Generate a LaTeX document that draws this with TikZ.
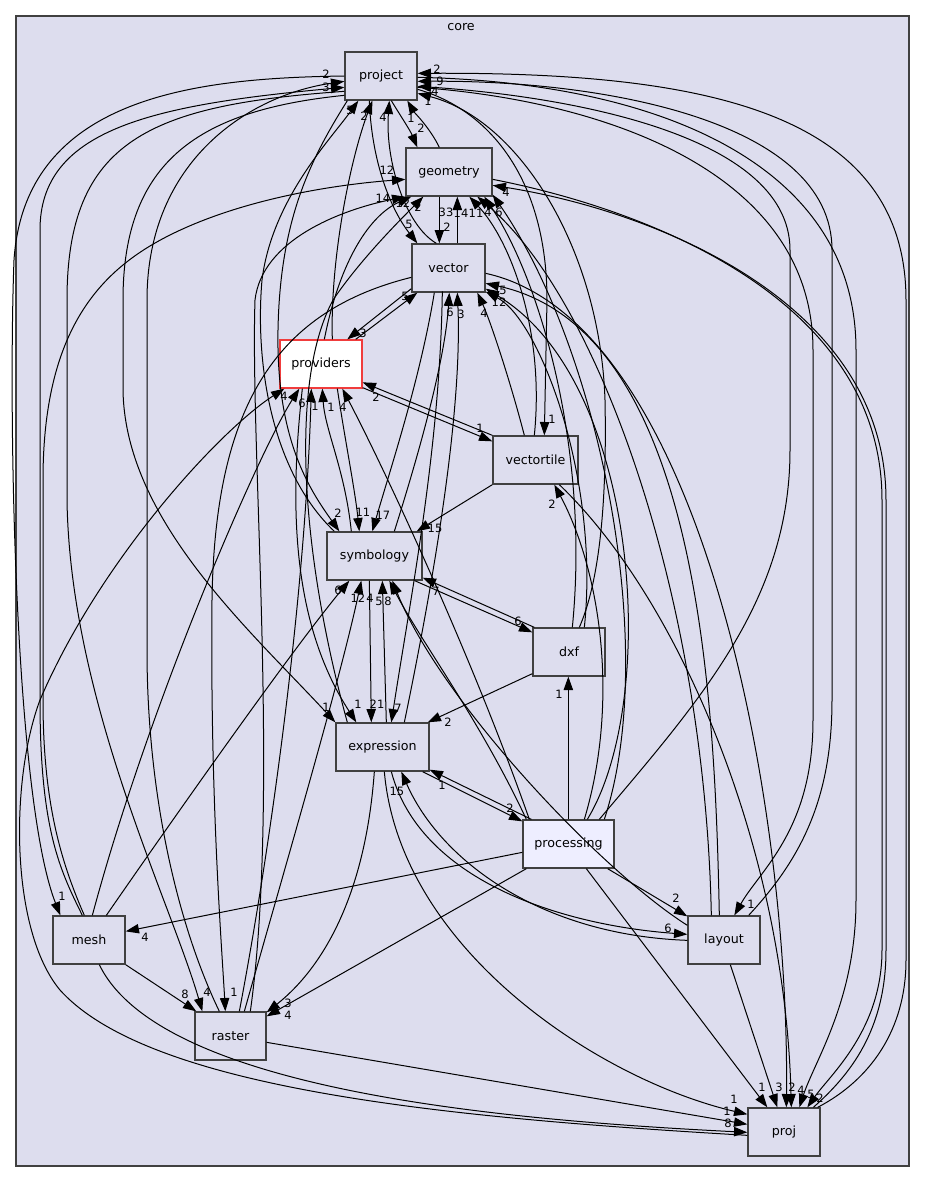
\documentclass[tikz,border=0pt]{standalone}
\usepackage{fontspec}
\setmainfont{DejaVu Sans}
\usetikzlibrary{arrows.meta,calc}
\definecolor{clusterfill}{HTML}{DDDDEE}
\definecolor{boxborder}{HTML}{404040}
\definecolor{procfill}{HTML}{EEEEFF}
\definecolor{provborder}{HTML}{F03C3C}
\tikzset{
  box/.style={draw=boxborder, fill=clusterfill, line width=1pt, minimum height=36pt, inner sep=0pt, font=\fontsize{9.5}{11}\selectfont},
  dep/.style={draw=black, line width=0.75pt, -{Triangle[length=10pt,width=7pt]}},
  lab/.style={font=\fontsize{8.6}{9}\selectfont, inner sep=0pt},
  clusterbox/.style={draw=boxborder, fill=clusterfill, line width=1pt, inner sep=0pt, minimum width=669.75pt, minimum height=862.5pt},
}
\begin{document}
\begin{tikzpicture}[x=0.75pt,y=-0.75pt]
\useasboundingbox (0,0) rectangle (925,1183);
\node[clusterbox] (core) at (462.5,591) {};
\node[font=\fontsize{9.5}{11}\selectfont] (corelabel) at (461,27) {core};

% nodes
\node[box, minimum width=54pt] (project) at (381,76) {project};
\node[box, minimum width=64.5pt] (geometry) at (449,172) {geometry};
\node[box, minimum width=54.75pt] (vector) at (448.5,268) {vector};
\node[box, minimum width=61.5pt, fill=white, draw=provborder] (providers) at (321,364) {providers};
\node[box, minimum width=63.75pt] (vectortile) at (535.5,460) {vectortile};
\node[box, minimum width=71.25pt] (symbology) at (374.5,556) {symbology};
\node[box, minimum width=54pt] (dxf) at (569,652) {dxf};
\node[box, minimum width=69.75pt] (expression) at (382.5,747) {expression};
\node[box, minimum width=68.25pt, fill=procfill] (processing) at (568.5,844) {processing};
\node[box, minimum width=54pt] (mesh) at (89,940) {mesh};
\node[box, minimum width=54pt] (layout) at (724,940) {layout};
\node[box, minimum width=53.25pt] (raster) at (230.5,1036) {raster};
\node[box, minimum width=54pt] (proj) at (784,1132) {proj};

% edges around project
\draw[dep] ($(project.south west)+(47,0)$) .. controls (400,115) and (410,130) .. ($(geometry.north west)+(12,0)$);
\node[lab] (l1) at (421,128) {2};
\draw[dep] ($(geometry.north west)+(34,0)$) .. controls (430,128) and (414,112) .. ($(project.south west)+(63,0)$);
\node[lab] (l2) at (411,118) {1};
\draw[dep] ($(vector.north west)+(25,0)$) .. controls (405,225) and (385,160) .. ($(project.south west)+(45,0)$);
\node[lab] (l3) at (383,117) {4};
\draw[dep] ($(project.south west)+(25,0)$) .. controls (372,170) and (395,215) .. ($(vector.north west)+(6,0)$);
\node[lab] (l4) at (409,224) {5};
\draw[dep] ($(providers.north west)+(53,0)$) .. controls (330,260) and (350,160) .. ($(project.south west)+(28,0)$);
\node[lab] (l5) at (364,116) {2};
\draw[dep] ($(symbology.north west)+(8,0)$) .. controls (270,470) and (255,360) .. (262,280) .. controls (272,200) and (330,140) .. ($(project.south west)+(14,0)$);
\node[lab] (l6) at (350,110) {5};
\draw[dep] ($(mesh.north west)+(30,0)$) .. controls (60,870) and (40,830) .. (40,700) -- (40,230) .. controls (40,130) and (150,105) .. ($(project.north west)+(0,36)$);
\node[lab] (l7) at (326,87) {3};
\draw[dep] ($(raster.north west)+(25,0)$) .. controls (180,930) and (147,800) .. (147,650) -- (147,300) .. controls (147,160) and (250,95) .. ($(project.north west)+(0,30)$);
\node[lab] (l8) at (326,74) {2};
\draw[dep] (project.west) .. controls (200,78) and (25,95) .. (14,260) .. controls (8,420) and (15,800) .. ($(mesh.north west)+(8,0)$);
\node[lab] (l9) at (62,896) {1};
\draw[dep] ($(mesh.north west)+(32,0)$) .. controls (60,860) and (43,800) .. (43,700) -- (43,480) .. controls (43,330) and (100,270) .. (170,235) .. controls (240,200) and (330,185) .. ($(geometry.north west)+(0,32)$);
\node[lab] (l10) at (387,170) {12};
\draw[dep] ($(project.north west)+(0,40)$) .. controls (150,105) and (67,140) .. (67,300) -- (67,500) .. controls (70,700) and (170,900) .. ($(raster.north west)+(8,0)$);
\node[lab] (l11) at (207,992) {4};
\draw[dep] ($(project.north west)+(0,44)$) .. controls (200,110) and (123,160) .. (123,300) -- (123,390) .. controls (125,520) and (250,630) .. (expression.north west);
\node[lab] (l12) at (326,707) {1};
\draw[dep] ($(project.south west)+(3,0)$) .. controls (310,160) and (280,220) .. (278,330) .. controls (276,440) and (310,490) .. ($(symbology.north west)+(13,0)$);
\node[lab] (l13) at (338,513) {2};
\draw[dep] ($(project.north east)+(0,38)$) .. controls (490,110) and (547,180) .. (547,300) -- ($(vectortile.north west)+(52,0)$);
\node[lab] (l14) at (552,419) {1};
\draw[dep] ($(dxf.north west)+(47,0)$) .. controls (600,580) and (607,500) .. (605,400) .. controls (600,250) and (520,120) .. ($(project.north east)+(0,42)$);
\node[lab] (l15) at (435,91) {4};
\draw[dep] ($(processing.north west)+(77,0)$) .. controls (700,700) and (790,600) .. (790,450) -- (790,250) .. controls (790,130) and (550,95) .. ($(project.north east)+(0,35)$);
\node[lab] (l16) at (428,101) {1};
\draw[dep] ($(layout.north east)+(-12,0)$) .. controls (800,860) and (832,800) .. (832,700) -- (832,250) .. controls (832,120) and (600,80) .. ($(project.north east)+(0,30)$);
\node[lab] (l17) at (440,81) {9};
\draw[dep] ($(project.north east)+(0,36)$) .. controls (600,100) and (813,170) .. (813,350) -- (813,720) .. controls (813,830) and (760,870) .. ($(layout.north west)+(47,0)$);
\node[lab] (l18) at (751,904) {1};
\draw[dep] ($(proj.north east)+(-3,0)$) .. controls (870,1080) and (906,1030) .. (906,960) -- (906,300) .. controls (906,110) and (700,72) .. ($(project.north east)+(0,22)$);
\node[lab] (l19) at (437,69) {2};
\draw[dep] ($(project.north east)+(0,26)$) .. controls (650,82) and (856,160) .. (856,350) -- (856,900) .. controls (856,1000) and (815,1060) .. ($(proj.north west)+(52,0)$);
\node[lab] (l20) at (820,1098) {2};
\draw[dep] ($(geometry.north east)+(0,32)$) .. controls (650,210) and (882,300) .. (882,500) -- (882,950) .. controls (882,1030) and (830,1075) .. ($(proj.north west)+(60,0)$);
\node[lab] (l21) at (811,1094) {5};
\draw[dep] ($(proj.north west)+(66,0)$) .. controls (850,1075) and (886,1030) .. (886,950) -- (886,500) .. controls (886,300) and (650,210) .. ($(geometry.north east)+(0,38)$);
\node[lab] (l22) at (506,192) {4};

% geometry / vector
\draw[dep] ($(geometry.south west)+(34,0)$) -- ($(vector.north west)+(28,0)$);
\node[lab] (l23) at (447,227) {2};
\draw[dep] ($(vector.north west)+(46,0)$) -- ($(geometry.south west)+(52,0)$);
\node[lab] (l24) at (446,212) {33};
\draw[dep] ($(providers.north east)+(-7,0)$) -- ($(vector.south west)+(6,0)$);
\node[lab] (l25) at (405,296) {5};
\draw[dep] ($(vector.south west)+(0,-4)$) -- ($(providers.north west)+(68,0)$);
\node[lab] (l26) at (363,333) {3};
\draw[dep] (vectortile.north west) -- ($(providers.north east)+(0,43)$);
\node[lab] (l27) at (376,397) {2};
\draw[dep] ($(providers.south east)+(0,-1)$) -- ($(vectortile.north west)+(0,6)$);
\node[lab] (l28) at (480,428) {1};
\draw[dep] ($(vectortile.north west)+(32,0)$) .. controls (510,380) and (490,320) .. ($(vector.south west)+(66,0)$);
\node[lab] (l29) at (484,313) {4};
\draw[dep] ($(vectortile.north west)+(42,0)$) .. controls (545,330) and (510,240) .. ($(geometry.south west)+(64,0)$);
\node[lab] (l30) at (461,213) {14};
\draw[dep] ($(vector.south west)+(23,0)$) .. controls (420,380) and (390,470) .. ($(symbology.north west)+(46,0)$);
\node[lab] (l31) at (383,515) {17};
\draw[dep] ($(symbology.north west)+(68,0)$) .. controls (420,450) and (445,360) .. ($(vector.south west)+(38,0)$);
\node[lab] (l32) at (450,312) {6};
\draw[dep] ($(expression.north west)+(69,0)$) .. controls (440,550) and (462,400) .. ($(vector.south west)+(46,0)$);
\node[lab] (l33) at (461,314) {3};
\draw[dep] ($(vector.north west)+(31,48)$) .. controls (440,450) and (410,600) .. ($(expression.north west)+(56,0)$);
\node[lab] (l34) at (398,708) {7};
\draw[dep] ($(processing.north west)+(65,0)$) .. controls (660,700) and (640,380) .. ($(vector.south east)+(0,-4)$);
\node[lab] (l35) at (499,302) {12};
\draw[dep] ($(layout.north west)+(32,0)$) .. controls (715,700) and (700,330) .. ($(vector.north east)+(0,40)$);
\node[lab] (l36) at (503,290) {5};
\draw[dep] ($(vector.north east)+(0,30)$) .. controls (700,320) and (790,800) .. ($(proj.north west)+(39,0)$);
\node[lab] (l37) at (792,1087) {2};
\draw[dep] ($(vector.north west)+(0,34)$) .. controls (280,310) and (215,400) .. (212,600) .. controls (210,800) and (222,950) .. ($(raster.north west)+(31,0)$);
\node[lab] (l38) at (234,992) {1};
\draw[dep] ($(providers.north west)+(45,0)$) .. controls (340,260) and (370,215) .. ($(geometry.south west)+(6,0)$);
\node[lab] (l39) at (403,203) {12};
\draw[dep] ($(raster.north west)+(56,0)$) .. controls (280,800) and (250,450) .. (255,300) .. controls (262,240) and (340,210) .. (geometry.south west);
\node[lab] (l40) at (383,198) {14};
\draw[dep] ($(expression.north west)+(12,0)$) .. controls (300,550) and (290,380) .. (333,300) .. controls (360,260) and (400,220) .. ($(geometry.south west)+(18,0)$);
\node[lab] (l41) at (418,207) {2};

% providers
\draw[dep] ($(mesh.north west)+(40,0)$) .. controls (150,700) and (260,450) .. ($(providers.south west)+(20,0)$);
\node[lab] (l42) at (302,403) {6};
\draw[dep] ($(proj.north west)+(0,28)$) .. controls (450,1118) and (150,1090) .. (60,990) .. controls (10,930) and (10,780) .. (40,700) .. controls (100,560) and (220,430) .. ($(providers.south west)+(5,0)$);
\node[lab] (l43) at (284,396) {4};
\draw[dep] ($(providers.south west)+(23,0)$) .. controls (290,500) and (290,620) .. ($(expression.north west)+(21,0)$);
\node[lab] (l44) at (358,704) {1};
\draw[dep] ($(raster.north west)+(45,0)$) .. controls (270,850) and (305,600) .. ($(providers.south west)+(32,0)$);
\node[lab] (l45) at (315,406) {1};
\draw[dep] ($(symbology.north west)+(25,0)$) .. controls (345,470) and (325,430) .. ($(providers.south west)+(43,0)$);
\node[lab] (l46) at (331,407) {1};
\draw[dep] ($(providers.south west)+(58,0)$) .. controls (345,440) and (355,490) .. ($(symbology.north west)+(33,0)$);
\node[lab] (l47) at (363,512) {11};
\draw[dep] ($(processing.north west)+(7,0)$) .. controls (470,650) and (380,460) .. ($(providers.south west)+(63,0)$);
\node[lab] (l48) at (343,407) {4};

% symbology / dxf / expression
\draw[dep] (vectortile.south west) -- ($(symbology.north east)+(-6,0)$);
\node[lab] (l49) at (435,528) {15};
\draw[dep] ($(symbology.south east)+(-8,0)$) -- ($(dxf.north west)+(0,5)$);
\node[lab] (l50) at (518,621) {6};
\draw[dep] ($(dxf.north west)+(2,0)$) -- ($(symbology.south east)+(0,-3)$);
\node[lab] (l51) at (436,591) {7};
\draw[dep] ($(processing.north west)+(46,0)$) -- ($(dxf.south west)+(36,0)$);
\node[lab] (l52) at (559,694) {1};
\draw[dep] ($(dxf.south west)+(0,-3)$) -- ($(expression.north east)+(-2,0)$);
\node[lab] (l53) at (448,722) {2};
\draw[dep] ($(dxf.north west)+(40,0)$) .. controls (590,450) and (540,280) .. ($(geometry.south west)+(79,0)$);
\node[lab] (l54) at (488,212) {4};
\draw[dep] ($(dxf.north west)+(52,0)$) .. controls (600,480) and (540,320) .. ($(vector.south east)+(0,-1)$);
\draw[dep] ($(processing.north west)+(82,0)$) .. controls (660,650) and (600,350) .. ($(geometry.south east)+(0,-2)$);
\node[lab] (l55) at (499,212) {6};
\draw[dep] ($(layout.north west)+(24,0)$) .. controls (705,600) and (600,300) .. ($(geometry.south west)+(72,0)$);
\node[lab] (l56) at (476,213) {11};
\draw[dep] ($(symbology.south west)+(43,0)$) -- ($(expression.north west)+(36,0)$);
\node[lab] (l57) at (377,704) {21};
\draw[dep] ($(expression.north west)+(51,0)$) -- ($(symbology.south west)+(56,0)$);
\node[lab] (l58) at (370,598) {4};
\draw[dep] ($(mesh.north west)+(54,0)$) .. controls (200,780) and (300,640) .. ($(symbology.south west)+(23,0)$);
\node[lab] (l59) at (338,590) {6};
\draw[dep] ($(raster.north west)+(50,0)$) .. controls (290,850) and (340,680) .. ($(symbology.south west)+(35,0)$);
\node[lab] (l60) at (358,598) {12};
\draw[dep] ($(processing.north west)+(4,0)$) .. controls (480,720) and (420,640) .. ($(symbology.south west)+(63,0)$);
\node[lab] (l61) at (379,601) {5};
\draw[dep] ($(layout.north west)+(0,10)$) .. controls (600,870) and (440,700) .. ($(symbology.south west)+(66,0)$);
\node[lab] (l62) at (388,601) {8};
\draw[dep] ($(expression.south east)+(-7,0)$) -- ($(processing.north west)+(0,2)$);
\node[lab] (l63) at (510,808) {2};
\draw[dep] ($(processing.north west)+(9,0)$) -- ($(expression.south east)+(0,-2)$);
\node[lab] (l64) at (442,785) {1};
\draw[dep] ($(expression.south west)+(56,0)$) .. controls (420,880) and (560,925) .. ($(layout.north west)+(0,19)$);
\node[lab] (l65) at (668,928) {6};
\draw[dep] ($(layout.north west)+(0,25)$) .. controls (540,935) and (440,860) .. ($(expression.south west)+(66,0)$);
\node[lab] (l66) at (397,791) {15};
\draw[dep] ($(expression.south west)+(39,0)$) .. controls (365,900) and (320,970) .. ($(raster.north east)+(0,1)$);
\node[lab] (l67) at (288,1003) {3};
\draw[dep] ($(expression.south west)+(49,0)$) .. controls (400,950) and (600,1080) .. ($(proj.north west)+(0,7)$);
\node[lab] (l68) at (734,1099) {1};

% bottom
\draw[dep] ($(processing.south west)+(4,0)$) -- ($(raster.north east)+(0,5)$);
\node[lab] (l69) at (288,1015) {4};
\draw[dep] ($(processing.north west)+(0,33)$) -- ($(mesh.north east)+(0,16)$);
\node[lab] (l70) at (145,937) {4};
\draw[dep] (mesh.south east) -- ($(raster.north west)+(2,0)$);
\node[lab] (l71) at (185,994) {8};
\draw[dep] ($(processing.south east)+(-7,0)$) -- ($(layout.north west)+(0,1)$);
\node[lab] (l72) at (676,898) {2};
\draw[dep] ($(processing.south west)+(64,0)$) -- ($(proj.north west)+(20,0)$);
\node[lab] (l73) at (762,1087) {1};
\draw[dep] ($(layout.south west)+(43,0)$) -- ($(proj.north west)+(30,0)$);
\node[lab] (l74) at (779,1087) {3};
\draw[dep] ($(processing.north west)+(62,0)$) .. controls (620,700) and (600,570) .. ($(vectortile.south west)+(62,0)$);
\node[lab] (l75) at (552,504) {2};
\draw[dep] ($(vectortile.south west)+(67,0)$) .. controls (680,600) and (785,850) .. ($(proj.north west)+(44,0)$);
\node[lab] (l76) at (801,1090) {4};
\draw[dep] ($(mesh.south west)+(47,0)$) .. controls (160,1090) and (500,1120) .. ($(proj.north west)+(0,25)$);
\node[lab] (l77) at (728,1123) {8};
\draw[dep] ($(raster.north east)+(0,31)$) -- ($(proj.north west)+(0,17)$);
\node[lab] (l78) at (727,1111) {1};
\end{tikzpicture}
\end{document}
